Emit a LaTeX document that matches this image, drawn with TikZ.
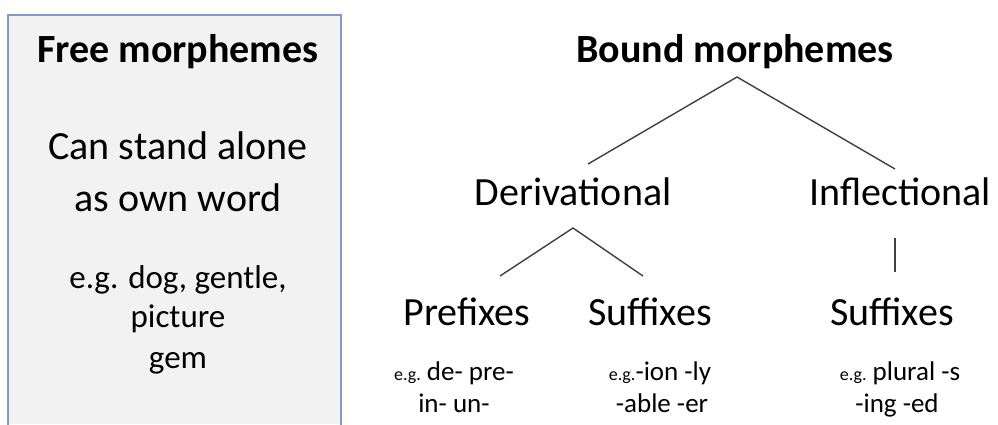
\documentclass[tikz,border=0pt]{standalone}
\usepackage{fontspec}
\setmainfont{Carlito}
\definecolor{boxfill}{HTML}{F2F2F2}
\definecolor{boxline}{HTML}{7F9CC8}
\definecolor{branch}{HTML}{404040}
% small "e.g." in front of the affix examples
\newcommand\egmark{{\fontsize{18}{20}\selectfont e.g.}}
\begin{document}
\begin{tikzpicture}[x=1pt,y=-1pt,
  head/.style={anchor=base, inner sep=0pt, font=\fontsize{40}{44}\selectfont\bfseries},
  big/.style={anchor=base, inner sep=0pt, font=\fontsize{40}{44}\selectfont},
  mid/.style={anchor=base, inner sep=0pt, font=\fontsize{33}{36}\selectfont},
  small/.style={anchor=base, inner sep=0pt, font=\fontsize{27}{30}\selectfont},
  branchline/.style={draw=branch, line width=1.4pt}]
\useasboundingbox (0,0) rectangle (998,424);
\fill[white] (0,0) rectangle (998,424);

% free morphemes panel (open at the bottom edge)
\fill[boxfill] (8,15) rectangle (341,424);
\draw[boxline, line width=2pt] (8,426) -- (8,15) -- (341,15) -- (341,426);
\node[head] (free) at (178,62) {Free morphemes};
\node[big] (free-l1) at (178,159) {Can stand alone};
\node[big] (free-l2) at (178,211) {as own word};
\node[mid] (free-e1) at (178,288) {e.g. dog, gentle,};
\node[mid] (free-e2) at (178,327) {picture};
\node[mid] (free-e3) at (178,368) {gem};

% bound morphemes tree
\node[head] (bound) at (735,62) {Bound morphemes};
\node[big] (deriv) at (573,205) {Derivational};
\node[big] (infl) at (900,205) {Inflectional};
\node[big] (pre) at (467,325) {Prefixes};
\node[big] (dsuf) at (650,325) {Suffixes};
\node[big] (isuf) at (892,325) {Suffixes};

\node[small] (pre-e1) at (454,380) {\egmark\ de- pre-};
\node[small] (pre-e2) at (454,412) {in- un-};
\node[small] (dsuf-e1) at (660,380) {\egmark-ion -ly};
\node[small] (dsuf-e2) at (662,412) {-able -er};
\node[small] (isuf-e1) at (900,380) {\egmark\ plural -s};
\node[small] (isuf-e2) at (897,412) {-ing -ed};

% branch end points
\coordinate (bound-foot) at (737,77);
\coordinate (deriv-top) at (588,164);
\coordinate (infl-top) at (895,169);
\coordinate (deriv-foot) at (573,228);
\coordinate (pre-top) at (500,276);
\coordinate (dsuf-top) at (643,276);
\coordinate (infl-foot) at (895,238);
\coordinate (isuf-top) at (895,272);

\draw[branchline] (deriv-top) -- (bound-foot) -- (infl-top);
\draw[branchline] (pre-top) -- (deriv-foot) -- (dsuf-top);
\draw[branchline] (infl-foot) -- (isuf-top);
\end{tikzpicture}
\end{document}
